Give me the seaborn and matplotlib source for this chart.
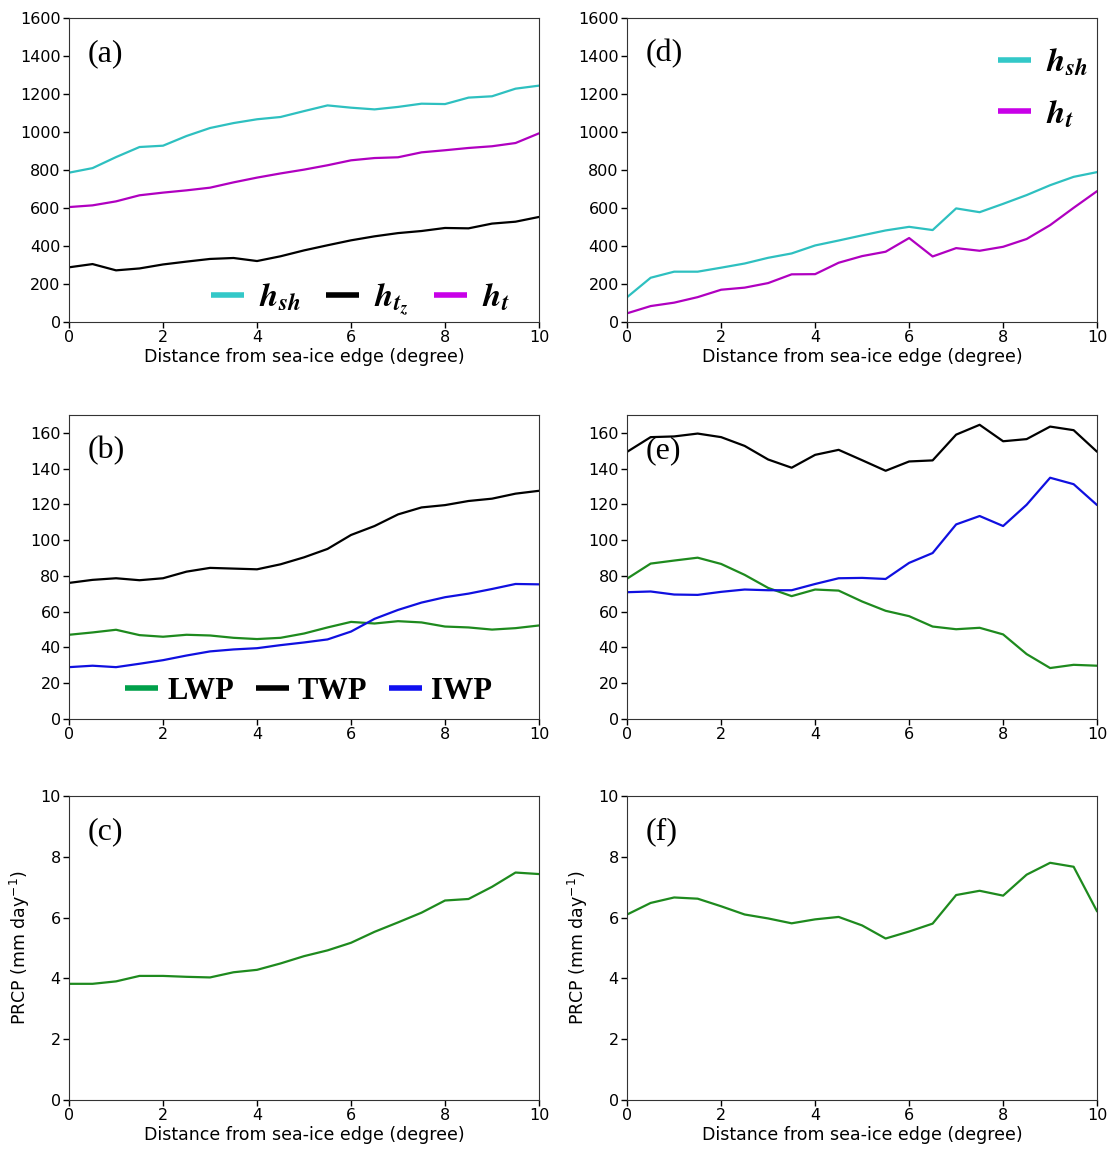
import numpy as np
import pandas as pd
import matplotlib
matplotlib.use('Agg')
import matplotlib.pyplot as plt
from matplotlib.lines import Line2D
import seaborn as sns

# distance from sea-ice edge (degree)
dist = np.arange(0, 10.01, 0.5)

# (a) / (d) heights
a_hsh = [786, 810, 868, 921, 928, 979, 1021, 1047, 1067, 1079, 1110, 1140, 1128, 1119, 1132, 1149, 1147, 1181, 1188, 1228, 1244]
a_htz = [288, 305, 272, 282, 303, 318, 332, 337, 321, 346, 377, 404, 430, 451, 468, 479, 495, 493, 518, 528, 553]
a_ht = [605, 614, 635, 667, 681, 693, 707, 735, 760, 782, 802, 825, 851, 863, 867, 893, 904, 916, 925, 942, 993]
d_hsh = [131, 233, 265, 265, 286, 308, 338, 361, 403, 429, 456, 482, 501, 484, 598, 578, 622, 668, 720, 764, 789]
d_ht = [46, 84, 102, 131, 170, 181, 205, 251, 252, 312, 347, 370, 442, 345, 389, 375, 396, 437, 510, 601, 689]

# (b) / (e) water paths
b_twp = [76.1, 77.8, 78.7, 77.6, 78.7, 82.4, 84.5, 84.1, 83.7, 86.5, 90.4, 95.1, 102.9, 107.9, 114.4, 118.3, 119.6, 121.9, 123.2, 126.0, 127.6]
b_lwp = [47.1, 48.4, 49.9, 46.9, 46.0, 47.1, 46.7, 45.4, 44.7, 45.4, 47.8, 51.2, 54.3, 53.4, 54.7, 54.0, 51.7, 51.2, 50.0, 50.8, 52.3]
b_iwp = [29.0, 29.8, 29.0, 30.9, 32.9, 35.5, 37.8, 38.9, 39.6, 41.3, 42.8, 44.5, 48.9, 56.0, 61.0, 65.1, 68.1, 70.1, 72.7, 75.5, 75.3]
e_twp = [149.4, 157.6, 158.0, 159.6, 157.6, 152.7, 145.1, 140.5, 147.7, 150.5, 144.7, 138.8, 144.0, 144.6, 159.0, 164.5, 155.3, 156.5, 163.5, 161.5, 149.4]
e_lwp = [78.5, 86.9, 88.6, 90.2, 86.7, 80.6, 73.3, 68.7, 72.4, 71.8, 65.7, 60.5, 57.5, 51.7, 50.2, 51.0, 47.3, 36.3, 28.5, 30.3, 29.8]
e_iwp = [70.9, 71.3, 69.6, 69.4, 71.1, 72.4, 72.0, 72.0, 75.5, 78.7, 78.9, 78.3, 87.3, 92.8, 108.8, 113.5, 107.9, 119.8, 134.9, 131.3, 119.6]

# (c) / (f) precipitation
c_prcp = [3.82, 3.82, 3.90, 4.08, 4.08, 4.05, 4.03, 4.20, 4.28, 4.49, 4.73, 4.92, 5.17, 5.53, 5.84, 6.16, 6.56, 6.61, 7.01, 7.48, 7.43]
f_prcp = [6.10, 6.48, 6.66, 6.62, 6.37, 6.10, 5.97, 5.81, 5.94, 6.02, 5.74, 5.31, 5.54, 5.80, 6.74, 6.88, 6.72, 7.41, 7.80, 7.67, 6.20]

sns.set_style('ticks')
plt.rcParams['font.family'] = ['DejaVu Sans']
plt.rcParams['mathtext.fontset'] = 'stix'
plt.rcParams['axes.edgecolor'] = '#333333'
for k in ['text.color', 'axes.labelcolor', 'xtick.color', 'ytick.color']:
    plt.rcParams[k] = 'black'

C_SH = '#2ec0c0'
C_T = '#b000c0'
C_TZ = 'black'
C_L = '#1e8a1e'
C_I = '#1010e0'

fig = plt.figure(figsize=(11.1, 11.53), dpi=100)
lefts = [0.0622, 0.565]
bottoms = [0.7207, 0.3764, 0.046]
w, h = 0.4234, 0.2637
axs = [[fig.add_axes([l, b, w, h]) for l in lefts] for b in bottoms]

tick_fs = 11.5
lab_fs = 12.5
xlab = 'Distance from sea-ice edge (degree)'
serif = 'Liberation Serif'


def style(ax, letter, ylim, yticks):
    ax.set_xlim(0, 10)
    ax.set_ylim(*ylim)
    ax.set_yticks(yticks)
    ax.set_xticks([0, 2, 4, 6, 8, 10])
    ax.tick_params(labelsize=tick_fs, length=4, width=1, pad=2)
    ax.text(0.04, 0.93, letter, transform=ax.transAxes, fontsize=23,
            family=serif, va='top', ha='left')
    ax.set_xlabel('')
    ax.set_ylabel('')


def handles(colors):
    return [Line2D([], [], color=c, lw=4, solid_capstyle='butt') for c in colors]


# panel a
ax = axs[0][0]
sns.lineplot(x=dist, y=a_hsh, ax=ax, color=C_SH, lw=1.6)
sns.lineplot(x=dist, y=a_htz, ax=ax, color=C_TZ, lw=1.6)
sns.lineplot(x=dist, y=a_ht, ax=ax, color=C_T, lw=1.6)
style(ax, '(a)', (0, 1600), range(0, 1601, 200))
ax.set_xlabel(xlab, fontsize=lab_fs, labelpad=2)
ax.legend(handles(['#33c8c8', 'black', '#c800e8']),
          [r'$\mathbfit{h}_{\mathbfit{sh}}$', r'$\mathbfit{h}_{\mathbfit{t}_{\mathbfit{z}}}$',
           r'$\mathbfit{h}_{\mathbfit{t}}$'],
          loc='center', ncol=3, frameon=False, fontsize=24, handlelength=1.0,
          handletextpad=0.45, columnspacing=0.75, borderpad=0, bbox_to_anchor=(0.62, 0.075))

# panel d
ax = axs[0][1]
sns.lineplot(x=dist, y=d_hsh, ax=ax, color=C_SH, lw=1.6)
sns.lineplot(x=dist, y=d_ht, ax=ax, color=C_T, lw=1.6)
style(ax, '(d)', (0, 1600), range(0, 1601, 200))
ax.set_xlabel(xlab, fontsize=lab_fs, labelpad=2)
ax.legend(handles(['#33c8c8', '#c800e8']),
          [r'$\mathbfit{h}_{\mathbfit{sh}}$', r'$\mathbfit{h}_{\mathbfit{t}}$'],
          loc='center', frameon=False, fontsize=24, handlelength=1.0, borderpad=0,
          handletextpad=0.45, labelspacing=0.55, bbox_to_anchor=(0.885, 0.77))

# panel b
ax = axs[1][0]
sns.lineplot(x=dist, y=b_twp, ax=ax, color=C_TZ, lw=1.6)
sns.lineplot(x=dist, y=b_lwp, ax=ax, color=C_L, lw=1.6)
sns.lineplot(x=dist, y=b_iwp, ax=ax, color=C_I, lw=1.6)
style(ax, '(b)', (0, 170), range(0, 161, 20))
ax.legend(handles(['#00a04a', 'black', '#1010f0']), ['LWP', 'TWP', 'IWP'],
          loc='center', ncol=3, frameon=False, borderpad=0,
          prop={'family': serif, 'weight': 'bold', 'size': 22}, handlelength=1.08,
          handletextpad=0.3, columnspacing=0.7, bbox_to_anchor=(0.51, 0.09))

# panel e
ax = axs[1][1]
sns.lineplot(x=dist, y=e_twp, ax=ax, color=C_TZ, lw=1.6)
sns.lineplot(x=dist, y=e_lwp, ax=ax, color=C_L, lw=1.6)
sns.lineplot(x=dist, y=e_iwp, ax=ax, color=C_I, lw=1.6)
style(ax, '(e)', (0, 170), range(0, 161, 20))

# panels c, f
for ax, vals, letter in [(axs[2][0], c_prcp, '(c)'), (axs[2][1], f_prcp, '(f)')]:
    sns.lineplot(x=dist, y=vals, ax=ax, color=C_L, lw=1.6)
    style(ax, letter, (0, 10), range(0, 11, 2))
    ax.set_xlabel(xlab, fontsize=lab_fs, labelpad=2)
    ax.set_ylabel(r'PRCP (mm day$^{-1}$)', fontsize=lab_fs, labelpad=6)
    ax.yaxis.get_label().set_math_fontfamily('dejavusans')

fig.savefig('out.png', dpi=100, facecolor='white')
